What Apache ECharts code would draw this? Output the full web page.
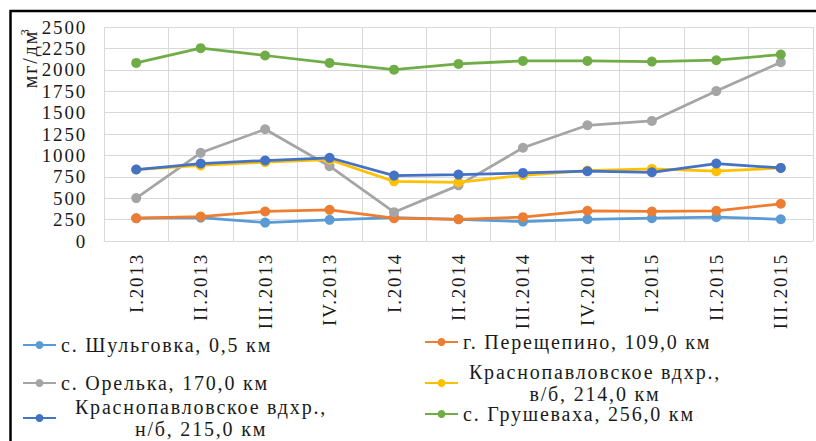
<!DOCTYPE html>
<html>
<head>
<meta charset="utf-8">
<script src="https://cdn.jsdelivr.net/npm/echarts@6/dist/echarts.min.js"></script>
<style>html,body{margin:0;padding:0;background:#fff}#c{width:816px;height:441px}#c text{letter-spacing:1.8px}</style>
</head>
<body>
<div id="c"></div>
<script>
const categories = ['I.2013','II.2013','III.2013','IV.2013','I.2014','II.2014','III.2014','IV.2014','I.2015','II.2015','III.2015'];
const seriesNames = ['с. Шульговка, 0,5 км','г. Перещепино, 109,0 км','с. Орелька, 170,0 км','Краснопавловское вдхр.,\nв/б, 214,0 км','Краснопавловское вдхр.,\nн/б, 215,0 км','с. Грушеваха, 256,0 км'];
const shulgovka = [266, 274, 215, 247, 274, 254, 227, 254, 266, 278, 254];
const pereshchepino = [266, 286, 345, 364, 266, 254, 278, 353, 345, 353, 435];
const orelka = [501, 1030, 1305, 874, 337, 650, 1089, 1352, 1403, 1751, 2088];
const krasnVB = [835, 882, 921, 950, 697, 686, 768, 823, 842, 815, 854];
const krasnNB = [835, 905, 940, 972, 764, 776, 795, 815, 803, 905, 854];
const grushevaha = [2080, 2253, 2167, 2080, 2002, 2069, 2104, 2104, 2096, 2112, 2178];
const yTicks = [0, 250, 500, 750, 1000, 1250, 1500, 1750, 2000, 2250, 2500];

const colors = ['#5B9BD5','#ED7D31','#A5A5A5','#FFC000','#4472C4','#70AD47'];
const values = [shulgovka, pereshchepino, orelka, krasnVB, krasnNB, grushevaha];
const FONT = '"Liberation Serif", "Times New Roman", serif';
const TXT = '#1a1a1a';
const LFS = 20;

const chart = echarts.init(document.getElementById('c'), null, {renderer: 'svg'});

const series = seriesNames.map((n, i) => ({
  name: n, type: 'line', data: values[i],
  symbol: 'circle', symbolSize: 10,
  lineStyle: {width: 2.75, color: colors[i]},
  itemStyle: {color: colors[i]},
  z: 2 + i
}));

function legendFor(name, left, top, multiW) {
  const base = {fontFamily: FONT, fontSize: LFS, color: TXT};
  const l = {
    data: [name], left: left, top: top, orient: 'horizontal',
    itemWidth: 33, itemHeight: 10, selectedMode: false,
    padding: 0,
    textStyle: base
  };
  if (multiW) {
    l.formatter = function (n) {
      return n.split('\n').map(s => '{c|' + s + '}').join('\n');
    };
    l.textStyle = Object.assign({}, base, {rich: {c: {width: multiW, align: 'center', fontFamily: FONT, fontSize: LFS, color: TXT, lineHeight: 22}}});
  }
  return l;
}

chart.setOption({
  animation: false,
  color: colors,
  grid: {left: 104, right: 3, top: 27, bottom: 200, containLabel: false},
  xAxis: {
    type: 'category', data: categories, boundaryGap: true,
    axisLine: {show: true, lineStyle: {color: '#d9d9d9', width: 1}},
    axisTick: {show: false},
    splitLine: {show: true, lineStyle: {color: '#d9d9d9', width: 1}},
    axisLabel: {rotate: 90, margin: 12, fontFamily: FONT, fontSize: 19, color: TXT, interval: 0}
  },
  yAxis: {
    type: 'value', min: yTicks[0], max: yTicks[yTicks.length - 1], interval: 250,
    axisLine: {show: false}, axisTick: {show: false},
    splitLine: {show: true, lineStyle: {color: '#d9d9d9', width: 1}},
    axisLabel: {margin: 17, fontFamily: FONT, fontSize: 19, color: TXT, formatter: v => String(v)}
  },
  legend: [
    legendFor(seriesNames[0], 22, 335),
    legendFor(seriesNames[1], 424, 332),
    legendFor(seriesNames[2], 22, 373),
    legendFor(seriesNames[3], 424, 362, 264),
    legendFor(seriesNames[4], 22, 397, 280),
    legendFor(seriesNames[5], 424, 404)
  ],
  graphic: [
    {type: 'rect', shape: {x: 10.5, y: 11, width: 900, height: 600}, style: {fill: null, stroke: '#000', lineWidth: 2.5}, silent: true},
    {type: 'text', x: 30, y: 56, rotation: Math.PI / 2,
     style: {text: '{a|мг/дм}{s|3}', align: 'center', verticalAlign: 'middle',
       rich: {a: {fontFamily: FONT, fontSize: 20, fill: TXT}, s: {fontFamily: FONT, fontSize: 12, fill: TXT, verticalAlign: 'top', padding: [0, 0, 10, 0]}}}}
  ],
  series: series
});
</script>
</body>
</html>
